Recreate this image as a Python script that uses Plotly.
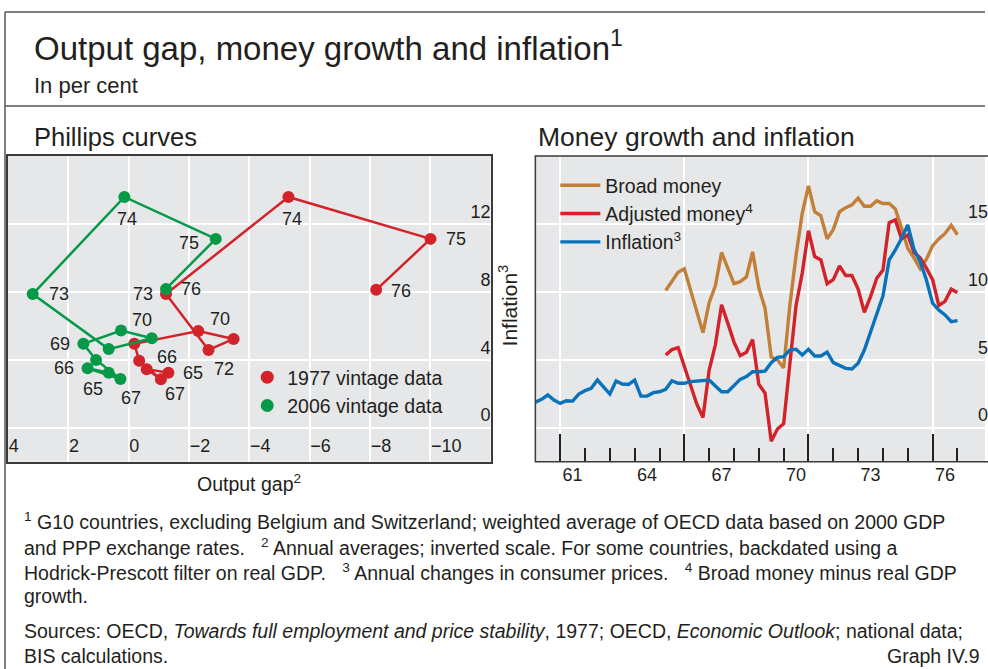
import plotly.graph_objects as go

W, H = 988, 669

# Phillips curves: annual points 1965-76 (output gap, inflation)
years = [65, 66, 67, 68, 69, 70, 71, 72, 73, 74, 75, 76]
gap_1977 = [-1.32, -0.60, -1.07, -0.35, -0.19, -2.31, -3.48, -2.65, -1.24, -5.30, -10.01, -8.21]
infl_1977 = [3.24, 3.45, 2.86, 3.95, 4.94, 5.70, 5.23, 4.58, 7.87, 13.59, 11.12, 8.12]
gap_2006 = [0.66, 1.36, 0.27, 1.08, 1.50, 0.25, -0.77, 0.66, 3.18, 0.14, -2.89, -1.24]
infl_2006 = [3.24, 3.50, 2.87, 3.99, 4.94, 5.72, 5.27, 4.63, 7.87, 13.59, 11.12, 8.17]
gap_ticks = [4, 2, 0, -2, -4, -6, -8, -10]
gap_ticktext = ["4", "2", "0", "\u22122", "\u22124", "\u22126", "\u22128", "\u221210"]
infl_ticks = [0, 4, 8, 12]

# Money growth and inflation: quarterly, 1960-76
quarters = [1960 + q / 4 for q in range(69)]
inflation = [
    1.87, 2.09, 2.41, 2.04, 1.79, 1.99, 1.96, 2.48, 2.73, 2.90, 3.51, 2.97,
    2.48, 3.44, 3.22, 3.19, 3.51, 2.33, 2.33, 2.58, 2.65, 2.83, 3.46, 3.27,
    3.27, 3.39, 3.44, 3.51, 3.51, 3.07, 2.65, 2.65, 3.07, 3.56, 3.76, 4.12,
    4.12, 4.17, 4.79, 5.18, 5.23, 5.72, 5.77, 5.35, 5.77, 5.28, 5.28, 5.57,
    4.79, 4.55, 4.37, 4.32, 4.74, 5.72, 7.10, 8.30, 9.70, 12.35, 13.08, 13.94,
    14.92, 13.13, 12.22, 10.87, 9.16, 8.66, 8.30, 7.80, 7.88,
]
money_start = 21  # money series begin in 1965 Q2
broad_money = [
    10.1, 10.8, 11.45, 11.7, 10.1, 8.5, 7.0, 9.2, 10.45, 12.9, 11.7, 10.6,
    10.75, 11.1, 12.95, 10.3, 8.8, 5.2, 5.0, 4.4, 9.0, 12.7, 15.8, 17.8,
    15.9, 15.6, 13.9, 14.6, 15.9, 16.2, 16.4, 16.9, 16.3, 16.3, 16.7, 16.5,
    16.5, 16.1, 14.7, 13.2, 12.5, 11.7, 12.4, 13.4, 13.9, 14.3, 14.9, 14.2,
]
adjusted_money = [
    5.35, 5.75, 5.9, 4.5, 3.3, 1.75, 0.75, 4.25, 6.1, 9.05, 7.7, 6.3,
    5.3, 5.55, 6.5, 3.2, 2.55, -1.0, -0.1, 0.3, 4.7, 9.0, 11.4, 14.5,
    12.6, 12.35, 10.6, 10.9, 11.9, 11.2, 11.2, 10.2, 8.5, 9.65, 11.0, 11.6,
    15.1, 15.3, 13.9, 14.2, 12.9, 12.5, 11.75, 10.9, 9.0, 9.3, 10.2, 9.95,
]
major_years = [1961, 1966, 1971, 1976]
minor_years = list(range(1961, 1979))
label_years = [1961.5, 1964.5, 1967.5, 1970.5, 1973.5, 1976.5]
label_text = ["61", "64", "67", "70", "73", "76"]
money_ticks = [0, 5, 10, 15]

RED = "#D3232A"
GREEN = "#069A48"
ORANGE = "#C27F38"
BLUE = "#0A72BA"
BG = "#E6E7E8"
INK = "#231F20"
FONT = "Liberation Sans, Arial, sans-serif"

# point label offsets in px (dx right, dy down)
offsets_1977 = {65: (25, 0), 66: (20, -12), 67: (14, 15), 70: (22, -12), 72: (15, 19),
                73: (-23, 0), 74: (4, 22), 75: (26, 0), 76: (25, 1)}
offsets_2006 = {65: (-16, 16), 66: (-24, 0), 67: (11, 19), 69: (-23, 0), 70: (21, -11),
                73: (26, 0), 74: (3, 22), 75: (-27, 4), 76: (25, 0)}


def fx(p):
    return p / W


def fy(p):
    return 1 - p / H


fig = go.Figure()

for gap, infl, color, name in [
    (gap_1977, infl_1977, RED, "1977 vintage data"),
    (gap_2006, infl_2006, GREEN, "2006 vintage data"),
]:
    fig.add_trace(go.Scatter(
        x=gap, y=infl, mode="lines+markers", xaxis="x", yaxis="y",
        line=dict(color=color, width=2.5), marker=dict(color=color, size=12),
        showlegend=False, hoverinfo="skip",
    ))
    fig.add_trace(go.Scatter(
        x=[None], y=[None], mode="markers", name=name, legend="legend2",
        marker=dict(color=color, size=13),
    ))

for gap, infl, offsets in [(gap_1977, infl_1977, offsets_1977), (gap_2006, infl_2006, offsets_2006)]:
    for yr, x, y in zip(years, gap, infl):
        if yr in offsets:
            dx, dy = offsets[yr]
            fig.add_annotation(x=x, y=y, xref="x", yref="y", text=str(yr), showarrow=False,
                               xshift=dx, yshift=-dy, font=dict(size=18, color=INK))

money_x = quarters[money_start:]
fig.add_trace(go.Scatter(x=money_x, y=broad_money, mode="lines", name="Broad money",
                         xaxis="x2", yaxis="y2", line=dict(color=ORANGE, width=3.4)))
fig.add_trace(go.Scatter(x=money_x, y=adjusted_money, mode="lines", name="Adjusted money<sup>4</sup>",
                         xaxis="x2", yaxis="y2", line=dict(color=RED, width=3.4)))
fig.add_trace(go.Scatter(x=quarters, y=inflation, mode="lines", name="Inflation<sup>3</sup>",
                         xaxis="x2", yaxis="y2", line=dict(color=BLUE, width=3.4)))
# carrier for the year labels axis
fig.add_trace(go.Scatter(x=[quarters[0]], y=[None], xaxis="x3", yaxis="y2", showlegend=False,
                         hoverinfo="skip"))

ydom = [fy(461.7), fy(156)]
grid = dict(showgrid=True, gridcolor="white", gridwidth=1.5, zeroline=False)
tickfont = dict(size=18, color=INK, family=FONT)

fig.update_layout(
    width=W, height=H,
    margin=dict(l=0, r=0, t=0, b=0),
    paper_bgcolor="white", plot_bgcolor=BG,
    font=dict(family=FONT, color=INK),
    xaxis=dict(domain=[fx(8), fx(492)], range=[4, -12], anchor="y",
               tickvals=gap_ticks, ticktext=gap_ticktext, ticks="",
               ticklabelposition="inside right", ticklabelstandoff=4, tickfont=tickfont,
               showline=True, mirror=True, linecolor="#3a3a3a", linewidth=1.5, **grid),
    yaxis=dict(domain=ydom, range=[-2, 16], anchor="x", side="right",
               tickvals=infl_ticks, ticks="", ticklabelposition="inside top", tickfont=tickfont,
               showline=True, mirror=True, linecolor="#3a3a3a", linewidth=1.5, **grid),
    xaxis2=dict(domain=[fx(537), 1], range=[1960, 1978.11], anchor="y2",
                tickvals=major_years, ticks="inside", ticklen=28, tickwidth=1.5, tickcolor="#222",
                showticklabels=False,
                minor=dict(tickvals=minor_years, ticks="inside", ticklen=14, tickwidth=1.5,
                           tickcolor="#222", showgrid=False),
                showline=False, **grid),
    xaxis3=dict(overlaying="x2", anchor="y2", range=[1960, 1978.11], side="bottom",
                tickvals=label_years, ticktext=label_text, ticks="", showgrid=False,
                zeroline=False, showline=False, tickfont=tickfont),
    yaxis2=dict(domain=ydom, range=[-2.5, 20], anchor="x2", side="right",
                tickvals=money_ticks, ticks="", ticklabelposition="inside top",
                ticklabelstandoff=-6, tickfont=tickfont, showline=False, **grid),
    legend=dict(x=fx(557), y=fy(166), xanchor="left", yanchor="top", bgcolor="rgba(0,0,0,0)",
                font=dict(size=19.5, color=INK), itemwidth=40, tracegroupgap=0),
    legend2=dict(x=fx(248), y=fy(358), xanchor="left", yanchor="top", bgcolor="rgba(0,0,0,0)",
                 font=dict(size=19.5, color=INK), itemwidth=30),
)

# right panel frame (runs off the right edge like the original)
fig.add_shape(type="rect", xref="x2 domain", yref="y2 domain", x0=0, x1=1.2, y0=0, y1=1,
              line=dict(color="#3a3a3a", width=1.5))

# outer frame
frame = dict(color="#555", width=1.5)
fig.add_shape(type="line", xref="paper", yref="paper", x0=fx(5), x1=fx(5), y0=0, y1=fy(12), line=frame)
fig.add_shape(type="line", xref="paper", yref="paper", x0=fx(5), x1=1, y0=fy(12), y1=fy(12), line=frame)
fig.add_shape(type="line", xref="paper", yref="paper", x0=fx(5), x1=1, y0=fy(106), y1=fy(106), line=frame)

texts = [
    (32, 46, "Output gap, money growth and inflation<sup>1</sup>", 33, "left"),
    (32, 85, "In per cent", 22, "left"),
    (32, 137, "Phillips curves", 25.5, "left"),
    (538, 137, "Money growth and inflation", 26.5, "left"),
    (250, 483, "Output gap<sup>2</sup>", 19.5, "center"),
]
for x, y, text, size, anchor in texts:
    fig.add_annotation(x=fx(x), y=fy(y), xref="paper", yref="paper", text=text, showarrow=False,
                       xanchor=anchor, yanchor="middle", font=dict(size=size, color=INK))

fig.add_annotation(x=fx(510), y=fy(305), xref="paper", yref="paper", text="Inflation<sup>3</sup>",
                   showarrow=False, textangle=-90, font=dict(size=21, color=INK))

notes = [
    (521, "<sup>1</sup> G10 countries, excluding Belgium and Switzerland; weighted average of OECD data based on 2000 GDP"),
    (547, "and PPP exchange rates.   <sup>2</sup> Annual averages; inverted scale. For some countries, backdated using a"),
    (572, "Hodrick-Prescott filter on real GDP.   <sup>3</sup> Annual changes in consumer prices.   <sup>4</sup> Broad money minus real GDP"),
    (596, "growth."),
    (631, "Sources: OECD, <i>Towards full employment and price stability</i>, 1977; OECD, <i>Economic Outlook</i>; national data;"),
    (656, "BIS calculations."),
]
for y, text in notes:
    fig.add_annotation(x=fx(22), y=fy(y), xref="paper", yref="paper", text=text, showarrow=False,
                       xanchor="left", yanchor="middle", font=dict(size=19.5, color=INK))
fig.add_annotation(x=fx(985), y=fy(656), xref="paper", yref="paper", text="Graph IV.9",
                   showarrow=False, xanchor="right", yanchor="middle", font=dict(size=19.5, color=INK))

fig.write_html("out.html", config={"displayModeBar": False},
               post_script="document.body.style.margin='0';")
